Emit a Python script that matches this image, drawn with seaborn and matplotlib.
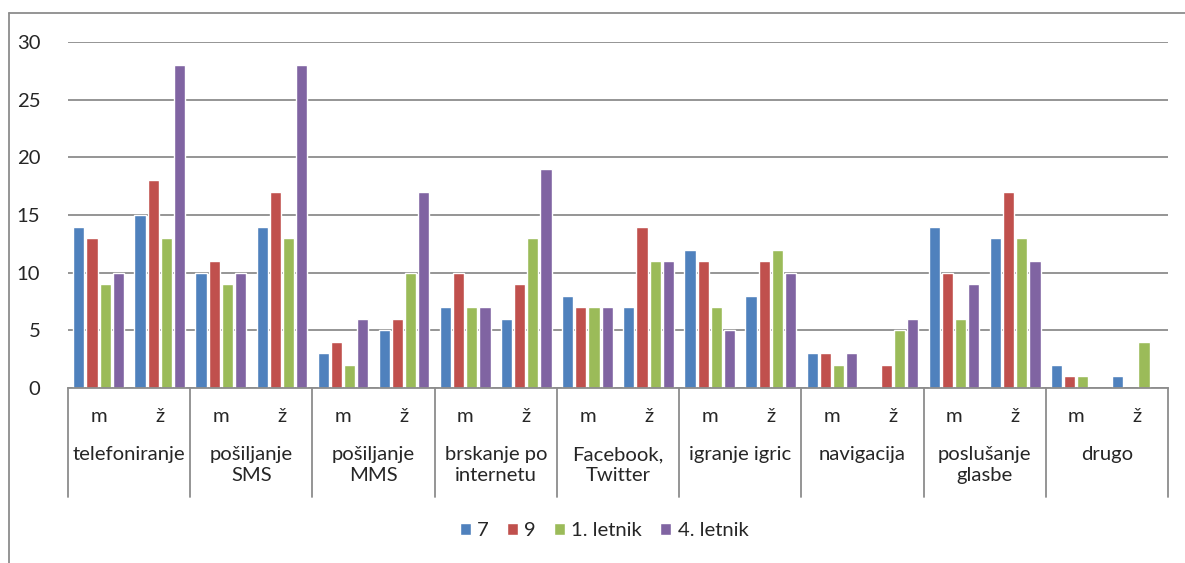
import numpy as np
import pandas as pd
import matplotlib
matplotlib.use("Agg")
import matplotlib.pyplot as plt
import matplotlib.transforms as mtransforms
import seaborn as sns

# podatki
kategorije = ["telefoniranje", "pošiljanje\nSMS", "pošiljanje\nMMS", "brskanje po\ninternetu",
              "Facebook,\nTwitter", "igranje igric", "navigacija", "poslušanje\nglasbe", "drugo"]
spol = ["m", "ž"]
serije = ["7", "9", "1. letnik", "4. letnik"]
nan = np.nan
v7 = [14, 15, 10, 14, 3, 5, 7, 6, 8, 7, 12, 8, 3, nan, 14, 13, 2, 1]
v9 = [13, 18, 11, 17, 4, 6, 10, 9, 7, 14, 11, 11, 3, 2, 10, 17, 1, nan]
v1l = [9, 13, 9, 13, 2, 10, 7, 13, 7, 11, 7, 12, 2, 5, 6, 13, 1, 4]
v4l = [10, 28, 10, 28, 6, 17, 7, 19, 7, 11, 5, 10, 3, 6, 9, 11, nan, nan]
barve = ["#4F81BD", "#C0504D", "#9BBB59", "#8064A2"]

# long format
skupine = [f"{k}|{s}" for k in kategorije for s in spol]
rows = []
for ser, vals in zip(serije, [v7, v9, v1l, v4l]):
    for g, v in zip(skupine, vals):
        rows.append({"skupina": g, "serija": ser, "vrednost": v})
df = pd.DataFrame(rows).dropna()

sns.set_style("white")
plt.rcParams["font.family"] = ["Lato", "DejaVu Sans"]
fs = 14.6

W, H = 1185, 563
fig = plt.figure(figsize=(W / 100, H / 100), dpi=100)
x0, x1, y0, y1 = 68, 1168, 388, 42
ax = fig.add_axes([x0 / W, 1 - y0 / H, (x1 - x0) / W, (y0 - y1) / H])

sns.barplot(data=df, x="skupina", y="vrednost", hue="serija", order=skupine,
            hue_order=serije, palette=barve, width=0.86, gap=0.15,
            errorbar=None, saturation=1, ax=ax, legend=True)

ax.set_ylim(0, 30)
ax.set_xlim(-0.5, len(skupine) - 0.5)
ax.set_yticks(range(0, 31, 5))
ax.tick_params(axis="y", length=0, pad=20, labelsize=fs)
ax.set_xticks([])
ax.set_xlabel("")
ax.set_ylabel("")
for s in ["left", "right", "top"]:
    ax.spines[s].set_visible(False)
ax.spines["bottom"].set_color("#8c8c8c")
ax.spines["bottom"].set_linewidth(1.3)
ax.grid(axis="y", color="#8c8c8c", linewidth=1.3)
ax.set_axisbelow(True)

# dvonivojska os x
ph = y0 - y1
tr = mtransforms.blended_transform_factory(ax.transData, ax.transAxes)
for i in range(len(kategorije) + 1):
    xs = 2 * i - 0.5
    ax.plot([xs, xs], [0, -(497 - y0) / ph], transform=tr, color="#8c8c8c",
            linewidth=1.3, clip_on=False)
for i, g in enumerate(skupine):
    ax.text(i, -(416 - y0) / ph, g.split("|")[1], transform=tr, ha="center",
            va="center", fontsize=fs)
for i, k in enumerate(kategorije):
    ax.text(2 * i + 0.5, -(446 - y0) / ph, k, transform=tr, ha="center",
            va="top", fontsize=fs, linespacing=1.32)

# legenda
handles, labels = ax.get_legend_handles_labels()
ax.legend_.remove()
fig.legend(handles, labels, loc="center", bbox_to_anchor=(604 / W, 1 - 531 / H),
           ncol=4, frameon=False, fontsize=fs, handlelength=0.55, handleheight=0.55,
           handletextpad=0.3, columnspacing=0.9)

# okvir grafikona
fig.add_artist(plt.Line2D([8.5 / W, 8.5 / W], [0, 1 - 13 / H], color="#8c8c8c", linewidth=1.3))
fig.add_artist(plt.Line2D([8.5 / W, 1], [1 - 13 / H, 1 - 13 / H], color="#8c8c8c", linewidth=1.3))

fig.savefig("out.png", dpi=100)
